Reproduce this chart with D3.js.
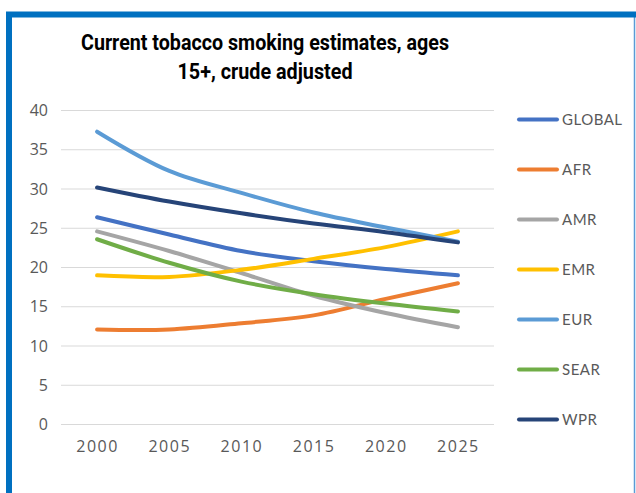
<!DOCTYPE html>
<html>
<head>
<meta charset="utf-8">
<script src="https://cdn.jsdelivr.net/npm/d3@7"></script>
<style>
  html, body { margin: 0; padding: 0; background: #fff; }
  svg { display: block; }
</style>
</head>
<body>
<svg id="chart" width="636" height="493"></svg>
<script>
// Years on the x axis
const years = [2000, 2005, 2010, 2015, 2020, 2025];

// Smoking prevalence (%) per WHO region
const seriesNames = ["GLOBAL", "AFR", "AMR", "EMR", "EUR", "SEAR", "WPR"];
const globalVals = [26.4, 24.2, 22.1, 20.8, 19.8, 19.0];
const afrVals    = [12.1, 12.1, 12.9, 13.9, 16.0, 18.0];
const amrVals    = [24.6, 22.1, 19.3, 16.4, 14.2, 12.4];
const emrVals    = [19.0, 18.8, 19.7, 21.1, 22.6, 24.6];
const eurVals    = [37.3, 32.3, 29.5, 27.0, 25.1, 23.3];
const searVals   = [23.6, 20.6, 18.2, 16.6, 15.4, 14.4];
const wprVals    = [30.2, 28.4, 26.9, 25.6, 24.5, 23.2];
const seriesColors = ["#4472C4", "#ED7D31", "#A5A5A5", "#FFC000", "#5B9BD5", "#70AD47", "#264478"];
const yTicks = [0, 5, 10, 15, 20, 25, 30, 35, 40];

const allVals = [globalVals, afrVals, amrVals, emrVals, eurVals, searVals, wprVals];
const series = seriesNames.map((name, i) => ({ name, color: seriesColors[i], values: allVals[i] }));

const svg = d3.select("#chart");

// Frame
svg.append("rect").attr("x", 0).attr("y", 0).attr("width", 636).attr("height", 493).attr("fill", "#fff");
svg.append("line").attr("x1", 634.5).attr("x2", 634.5).attr("y1", 15).attr("y2", 493)
  .attr("stroke", "#5B9BD5").attr("stroke-width", 1.5);
svg.append("path").attr("d", "M9,493 V14.5 H636")
  .attr("fill", "none").attr("stroke", "#0070C0").attr("stroke-width", 6);

// Title (condensed bold)
const titleLines = [
  { text: "Current tobacco smoking estimates, ages", y: 50, width: 368 },
  { text: "15+, crude adjusted", y: 79, width: 175 }
];
svg.append("g").selectAll("text").data(titleLines).join("text")
  .attr("x", 265 + 0).attr("text-anchor", "middle")
  .attr("x", 265)
  .attr("y", d => d.y)
  .attr("font-family", "Roboto, sans-serif").attr("font-weight", 700)
  .attr("font-size", 22).attr("fill", "#000")
  .attr("textLength", d => d.width).attr("lengthAdjust", "spacingAndGlyphs")
  .text(d => d.text);

// Scales
const plot = { left: 61, right: 494, top: 110.5, bottom: 424.5 };
const x = d3.scalePoint().domain(years).range([plot.left, plot.right]).padding(0.5);
const y = d3.scaleLinear().domain([0, 40]).range([plot.bottom, plot.top]);

// Gridlines
svg.append("g").selectAll("line").data(yTicks).join("line")
  .attr("x1", plot.left).attr("x2", plot.right)
  .attr("y1", d => y(d)).attr("y2", d => y(d))
  .attr("stroke", "#D9D9D9").attr("stroke-width", 1.2);

// Y axis labels
const yAxis = svg.append("g").attr("transform", `translate(${plot.left},0)`)
  .call(d3.axisLeft(y).tickValues(yTicks).tickSize(0).tickPadding(13));
yAxis.select(".domain").remove();
yAxis.selectAll("text").attr("font-family", "'Open Sans', sans-serif")
  .attr("font-size", 16).attr("fill", "#595959");

// X axis labels
const xAxis = svg.append("g").attr("transform", `translate(0,${plot.bottom})`)
  .call(d3.axisBottom(x).tickSize(0).tickPadding(16).tickFormat(d3.format("d")));
xAxis.select(".domain").remove();
xAxis.selectAll("text").attr("font-family", "'Open Sans', sans-serif")
  .attr("font-size", 16).attr("fill", "#595959").attr("letter-spacing", 1.5);

// Lines
const line = d3.line()
  .x((d, i) => x(years[i]))
  .y(d => y(d))
  .curve(d3.curveCatmullRom.alpha(0.5));

svg.append("g").selectAll("path").data(series).join("path")
  .attr("d", d => line(d.values))
  .attr("fill", "none")
  .attr("stroke", d => d.color)
  .attr("stroke-width", 4)
  .attr("stroke-linecap", "round")
  .attr("stroke-linejoin", "round");

// Legend
const legend = svg.append("g").selectAll("g").data(series).join("g")
  .attr("transform", (d, i) => `translate(0,${119.5 + i * 50})`);
legend.append("line").attr("x1", 519).attr("x2", 557).attr("y1", 0).attr("y2", 0)
  .attr("stroke", d => d.color).attr("stroke-width", 4).attr("stroke-linecap", "round");
legend.append("text").attr("x", 562).attr("y", 0).attr("dy", "0.35em")
  .attr("font-family", "Lato, sans-serif").attr("font-size", 15).attr("fill", "#595959")
  .attr("letter-spacing", 0.5)
  .text(d => d.name);
</script>
</body>
</html>
